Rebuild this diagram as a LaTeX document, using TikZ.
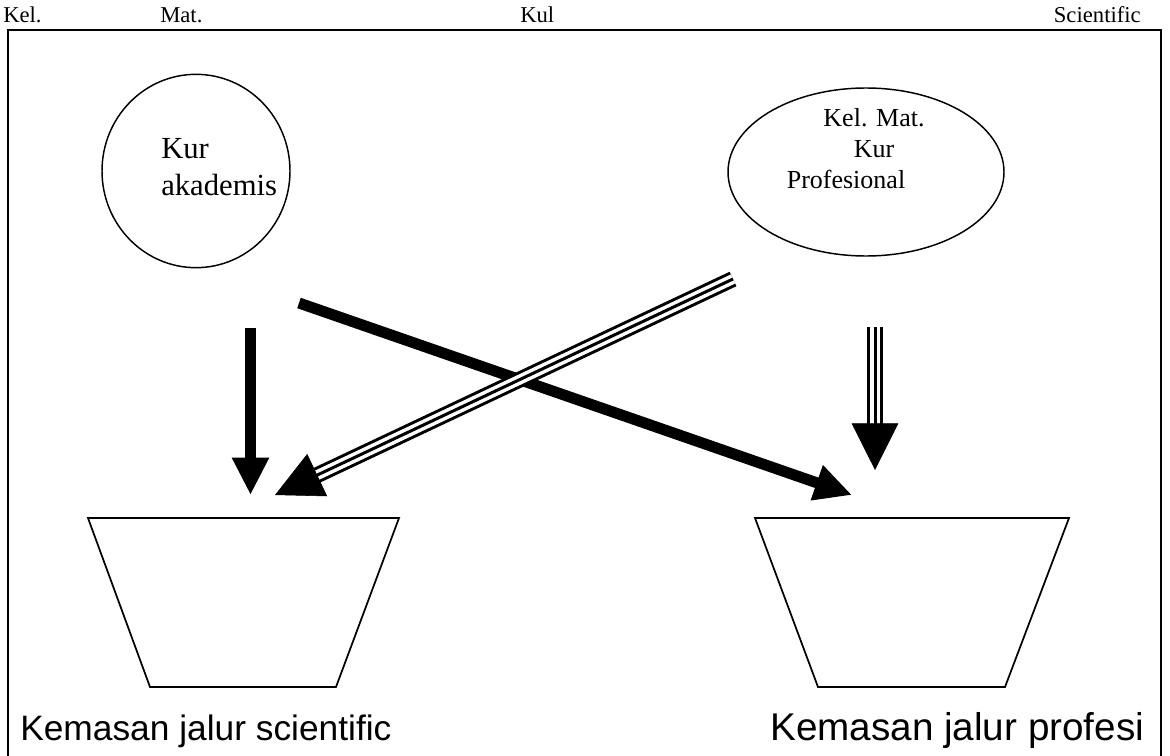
\documentclass[tikz,border=0pt]{standalone}
\usepackage{fontspec}
\setmainfont{Liberation Serif}
\newfontfamily\arialfont{Liberation Sans}
\usetikzlibrary{shapes, arrows.meta, calc}
\tikzstyle{bubble} = [ellipse, draw=black, line width=1.1pt, inner sep=0pt]
\tikzstyle{bucket} = [draw=black, line width=1.3pt, line join=miter]
\tikzstyle{frame} = [draw=black, line width=1.4pt]
\tikzstyle{heading} = [anchor=base west, inner sep=0pt, font=\fontsize{17}{20}\selectfont]
\tikzstyle{caption} = [anchor=base west, inner sep=0pt, font=\arialfont\fontsize{26.5}{32}\selectfont]
\tikzstyle{edge} = [line width=8.25pt, -{Triangle[length=28pt, width=26pt]}]
\tikzstyle{triple} = [line width=2.25pt, preaction={draw=black, line width=12pt}, preaction={draw=white, line width=7.5pt}]
\tikzstyle{bighead} = [line width=0.4pt, -{Triangle[length=35pt, width=35pt]}]

\begin{document}
\begin{tikzpicture}[x=0.75pt, y=-0.75pt]
\useasboundingbox (0,0) rectangle (1170,756);

% heading line
\node (kel) [heading] at (3,23) {Kel.};
\node (mat) [heading] at (160,23) {Mat.};
\node (kul) [heading] at (520,23) {Kul};
\node (sci) [heading, anchor=base east] at (1141,23) {Scientific};

\draw [frame] (8,770) -- (8,30) -- (1161,30) -- (1161,770);

% curriculum groups
\node (akad) [bubble, minimum width=141pt, minimum height=145pt] at (196,171) {};
\node (akadtext) [anchor=north west, inner sep=0pt, align=left, font=\fontsize{23}{28}\selectfont] at (161,138) {Kur\\akademis};
\node (prof) [bubble, minimum width=207pt, minimum height=126pt] at (866,172) {};
\node (proftext) [anchor=north, inner sep=0pt, align=center, font=\fontsize{19.5}{23.25}\selectfont] at (874,108) {Kel. Mat.\\Kur\\Profesional\hspace*{42pt}};

% packages
\draw [bucket] (88,518) -- (399,518) -- (336,687) -- (150,687) -- cycle;
\draw [bucket] (755,518) -- (1069,518) -- (1005,687) -- (818,687) -- cycle;
\node (scicap) [caption] at (20,740) {Kemasan jalur scientific};
\node (profcap) [caption, font=\arialfont\fontsize{29}{34}\selectfont] at (770,740) {Kemasan jalur profesi};

\coordinate (akadout1) at (250.5,328);
\coordinate (akadout2) at (299,303);
\coordinate (profout1) at (733,279);
\coordinate (profout2) at (875,327);
\coordinate (sciin1) at (250.5,495);
\coordinate (sciin2) at (275,495);
\coordinate (profin1) at (852,495);
\coordinate (profin2) at (875,470);

\draw [edge] (akadout1) -- (sciin1);
\draw [edge] (akadout2) -- (profin1);
\draw [triple] (profout1) -- ($(sciin2)!34pt!(profout1)$);
\draw [bighead] ($(sciin2)!35pt!(profout1)$) -- (sciin2);
\draw [triple] (profout2) -- ($(profin2)!34pt!(profout2)$);
\draw [bighead] ($(profin2)!35pt!(profout2)$) -- (profin2);

\end{tikzpicture}
\end{document}
